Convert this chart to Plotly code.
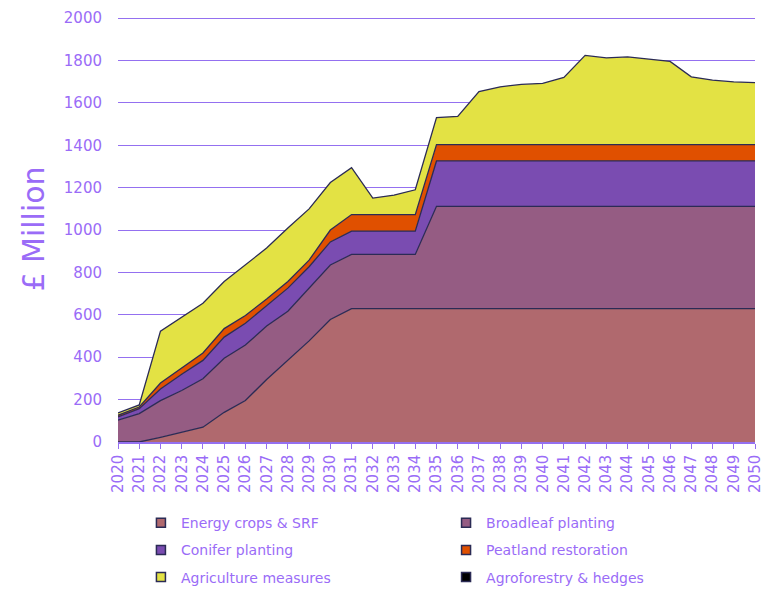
import plotly.graph_objects as go

# values (£ million, stacked)
years = list(range(2020, 2051))

energy_crops = [0, 0, 22, 45, 70, 140, 196, 295, 385, 477, 578, 629, 629, 629, 629,
                629, 629, 629, 629, 629, 629, 629, 629, 629, 629, 629, 629, 629, 629, 629, 629]
broadleaf = [103, 134, 173, 198, 228, 255, 262, 252, 232, 249, 257, 256, 256, 256, 256,
             483, 483, 483, 483, 483, 483, 483, 483, 483, 483, 483, 483, 483, 483, 483, 483]
conifer = [15, 23, 55, 77, 87, 100, 102, 98, 109, 101, 109, 110, 110, 110, 110,
           214, 214, 214, 214, 214, 214, 214, 214, 214, 214, 214, 214, 214, 214, 214, 214]
peatland = [8, 8, 28, 30, 35, 40, 37, 30, 31, 31, 56, 78, 78, 78, 78,
            77, 77, 77, 77, 77, 77, 77, 77, 77, 77, 77, 77, 77, 77, 77, 77]
agriculture = [11, 10, 245, 240, 235, 222, 238, 240, 253, 242, 224, 221, 78, 92, 117,
               128, 133, 250, 273, 284, 289, 317, 421, 409, 414, 402, 393, 320, 304, 296, 293]
agroforestry = [0] * 31

y_ticks = [0, 200, 400, 600, 800, 1000, 1200, 1400, 1600, 1800, 2000]

series = [
    ("Energy crops & SRF", energy_crops, "#B0696E", "legend"),
    ("Broadleaf planting", broadleaf, "#955C83", "legend2"),
    ("Conifer planting", conifer, "#7A4CB1", "legend"),
    ("Peatland restoration", peatland, "#E05000", "legend2"),
    ("Agriculture measures", agriculture, "#E3E244", "legend"),
    ("Agroforestry & hedges", agroforestry, "#000000", "legend2"),
]

txt = "#9A6CF7"
grid = "#9470F0"
edge = "#2B2B55"
font = "DejaVu Sans"

fig = go.Figure()
# stacked areas
for i, (name, vals, col, lg) in enumerate(series):
    fig.add_trace(go.Scatter(
        x=years, y=vals, name=name, mode="lines", stackgroup="one",
        fillcolor=col, line=dict(color=edge, width=1.3 if i < 5 else 0),
        showlegend=False,
    ))
# legend entries with small square keys
for name, vals, col, lg in series:
    fig.add_trace(go.Scatter(
        x=[None], y=[None], name=name, mode="markers",
        marker=dict(symbol="square", size=9, color=col, line=dict(color=edge, width=1.5)),
        legend=lg, legendgroup=name,
    ))

leg = dict(font=dict(family=font, size=14, color=txt), bgcolor="rgba(0,0,0,0)",
           traceorder="grouped", tracegroupgap=6, itemwidth=30,
           yref="container", yanchor="top", xanchor="left", y=0.141)

# page body adds an 8px offset, so the figure is 8px smaller than the window
fig.update_layout(
    width=767, height=581,
    margin=dict(l=110, r=20, t=8, b=147),
    plot_bgcolor="white", paper_bgcolor="white",
    font=dict(family=font, color=txt),
    showlegend=True,
    legend=dict(leg, x=0.036),
    legend2=dict(leg, x=0.515),
    hovermode=False,
)
fig.update_xaxes(
    range=[2020, 2050], tickmode="array", tickvals=years,
    ticktext=[str(y) for y in years], tickangle=-90,
    tickfont=dict(family=font, size=15, color=txt),
    ticks="outside", ticklen=5, tickcolor=grid,
    showline=True, linecolor=grid, linewidth=1.5,
    showgrid=False, zeroline=False, automargin=False,
)
fig.update_yaxes(
    range=[0, 2010], tickmode="array", tickvals=y_ticks,
    tickfont=dict(family=font, size=15, color=txt), ticklabeloverflow="allow",
    showgrid=True, gridcolor=grid, gridwidth=1.3, zeroline=False,
    showline=False, ticks="outside", ticklen=12, tickcolor="rgba(0,0,0,0)",
    automargin=False,
    title=dict(text="£ Million", font=dict(family=font, size=30, color=txt), standoff=10),
)

fig.write_html("out.html")
